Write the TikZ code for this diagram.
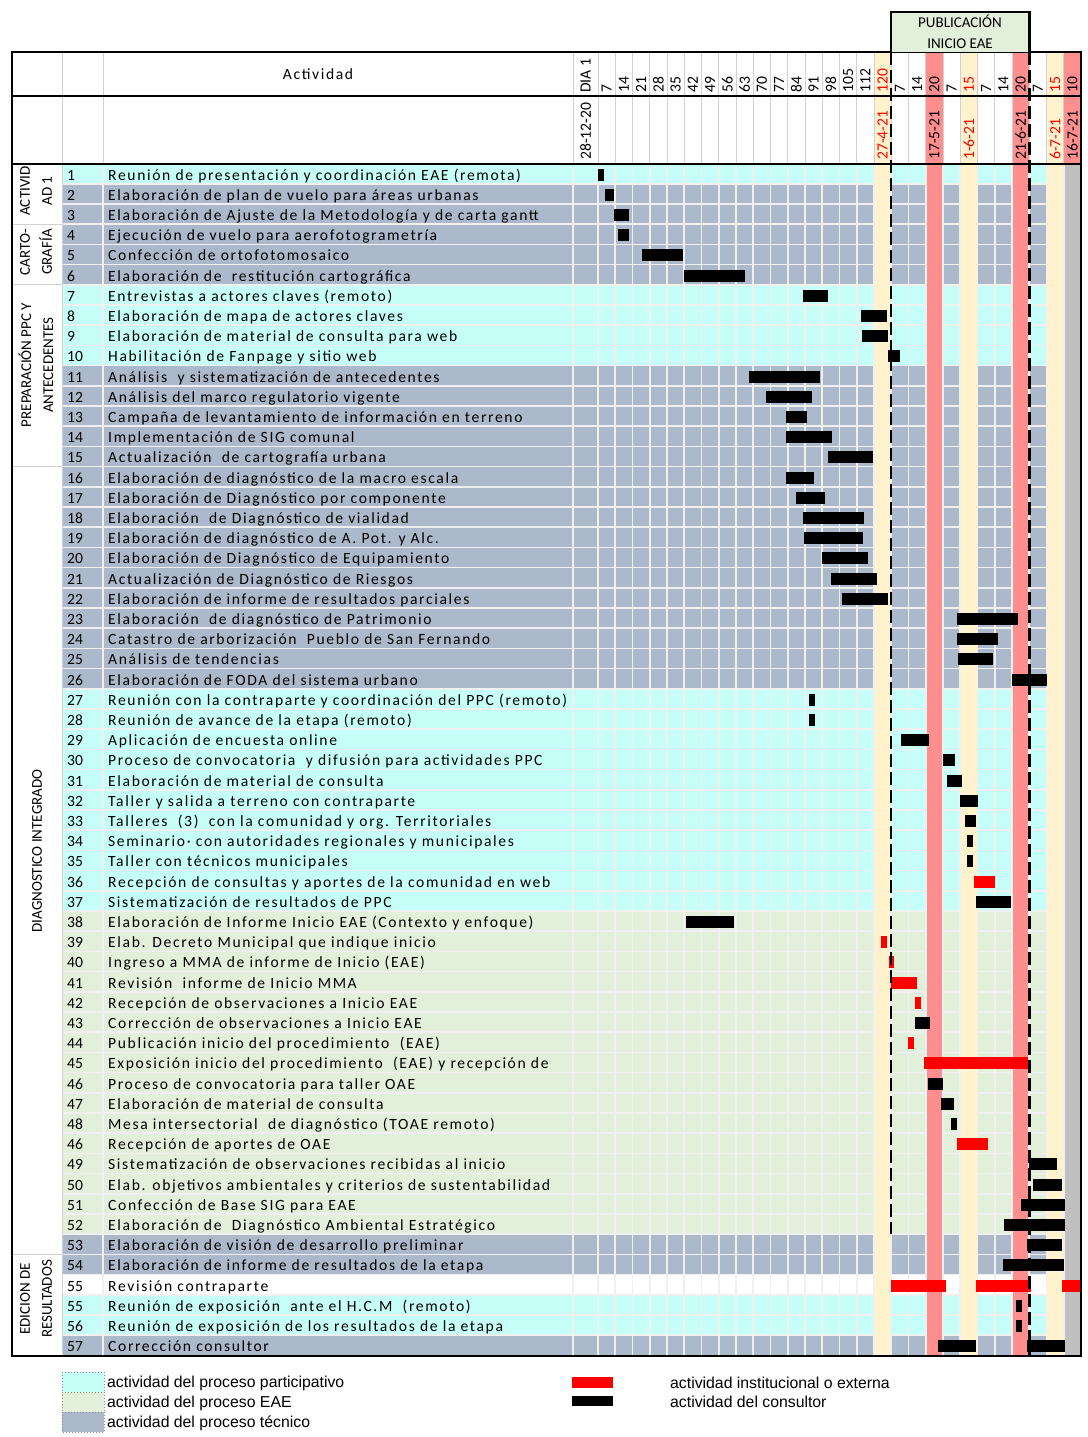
\documentclass[tikz,border=0pt]{standalone}
\usepackage{fontspec}
\setmainfont{Carlito}
\newfontfamily\spacedfont{Carlito}[LetterSpace=10.5]
\newfontfamily\legendfont{Liberation Sans}
\definecolor{participa}{HTML}{C5FFF8}
\definecolor{eae}{HTML}{E2EFDA}
\definecolor{tecnico}{HTML}{ACB9CA}
\definecolor{amarillo}{HTML}{FFF2CC}
\definecolor{rosa}{HTML}{FF8F8F}
\definecolor{gris}{HTML}{C0C0C0}
\definecolor{rojo}{HTML}{FF0000}
\newcommand\cx[1]{(598+17.25*(#1-1))}
\newcommand\ry[1]{(163.5+20.2*(#1))}
\tikzset{%
    gridline/.style = {draw=white!94!black, line width=1.6pt},
    headgrid/.style = {draw=black!18, line width=0.8pt},
    frame/.style = {draw=black, line width=2pt},
    acttext/.style = {anchor=base west, inner sep=0pt,
        font=\spacedfont\fontsize{15.6}{18}\selectfont},
    numtext/.style = {anchor=base west, inner sep=0pt,
        font=\fontsize{15.6}{18}\selectfont},
    colhead/.style = {rotate=90, anchor=west, inner sep=0pt,
        font=\fontsize{15.6}{18}\selectfont},
    grouplabel/.style = {rotate=90, align=center, inner sep=0pt,
        font=\fontsize{15}{22}\selectfont},
    legendbox/.style = {draw=black!45, dotted, line width=1pt},
    legendtext/.style = {anchor=west, inner sep=0pt,
        font=\legendfont\fontsize{15.8}{18}\selectfont},
    phaseline/.style = {draw=black, line width=2.8pt, dash pattern=on 13pt off 5pt},
}

\begin{document}
\begin{tikzpicture}[x=1pt, y=-1pt]
    \fill[white] (0,0) rectangle (1087,1437);
    \useasboundingbox (0,0) rectangle (1087,1437);
    % filas de actividades
    \foreach \r/\nr/\rc/\txt in {
        0/1/participa/{Reunión de presentación y coordinación EAE (remota)},
        1/2/tecnico/{Elaboración de plan de vuelo para áreas urbanas},
        2/3/tecnico/{Elaboración de Ajuste de la Metodología y de carta gantt},
        3/4/tecnico/{Ejecución de vuelo para aerofotogrametría},
        4/5/tecnico/{Confección de ortofotomosaico},
        5/6/tecnico/{Elaboración de\ \ restitución cartográfica},
        6/7/participa/{Entrevistas a actores claves (remoto)},
        7/8/participa/{Elaboración de mapa de actores claves},
        8/9/participa/{Elaboración de material de consulta para web},
        9/10/participa/{Habilitación de Fanpage y sitio web},
        10/11/tecnico/{Análisis\ \ y sistematización de antecedentes},
        11/12/tecnico/{Análisis del marco regulatorio vigente},
        12/13/tecnico/{Campaña de levantamiento de información en terreno},
        13/14/tecnico/{Implementación de SIG comunal},
        14/15/tecnico/{Actualización\ \ de cartografía urbana},
        15/16/tecnico/{Elaboración de diagnóstico de la macro escala},
        16/17/tecnico/{Elaboración de Diagnóstico por componente},
        17/18/tecnico/{Elaboración\ \ de Diagnóstico de vialidad},
        18/19/tecnico/{Elaboración de diagnóstico de A. Pot. y Alc.},
        19/20/tecnico/{Elaboración de Diagnóstico de Equipamiento},
        20/21/tecnico/{Actualización de Diagnóstico de Riesgos},
        21/22/tecnico/{Elaboración de informe de resultados parciales},
        22/23/tecnico/{Elaboración\ \ de diagnóstico de Patrimonio},
        23/24/tecnico/{Catastro de arborización\ \ Pueblo de San Fernando},
        24/25/tecnico/{Análisis de tendencias},
        25/26/tecnico/{Elaboración de FODA del sistema urbano},
        26/27/participa/{Reunión con la contraparte y coordinación del PPC (remoto)},
        27/28/participa/{Reunión de avance de la etapa (remoto)},
        28/29/participa/{Aplicación de encuesta online},
        29/30/participa/{Proceso de convocatoria\ \ y difusión para actividades PPC},
        30/31/participa/{Elaboración de material de consulta},
        31/32/participa/{Taller y salida a terreno con contraparte},
        32/33/participa/{Talleres\ \ (3)\ \ con la comunidad y org. Territoriales},
        33/34/participa/{Seminario· con autoridades regionales y municipales},
        34/35/participa/{Taller con técnicos municipales},
        35/36/participa/{Recepción de consultas y aportes de la comunidad en web},
        36/37/participa/{Sistematización de resultados de PPC},
        37/38/eae/{Elaboración de Informe Inicio EAE (Contexto y enfoque)},
        38/39/eae/{Elab. Decreto Municipal que indique inicio},
        39/40/eae/{Ingreso a MMA de informe de Inicio (EAE)},
        40/41/eae/{Revisión\ \ informe de Inicio MMA},
        41/42/eae/{Recepción de observaciones a Inicio EAE},
        42/43/eae/{Corrección de observaciones a Inicio EAE},
        43/44/eae/{Publicación inicio del procedimiento\ \ (EAE)},
        44/45/eae/{Exposición inicio del procedimiento\ \ (EAE) y recepción de},
        45/46/eae/{Proceso de convocatoria para taller OAE},
        46/47/eae/{Elaboración de material de consulta},
        47/48/eae/{Mesa intersectorial\ \ de diagnóstico (TOAE remoto)},
        48/46/eae/{Recepción de aportes de OAE},
        49/49/eae/{Sistematización de observaciones recibidas al inicio},
        50/50/eae/{Elab. objetivos ambientales y criterios de sustentabilidad},
        51/51/eae/{Confección de Base SIG para EAE},
        52/52/eae/{Elaboración de\ \ Diagnóstico Ambiental Estratégico},
        53/53/tecnico/{Elaboración de visión de desarrollo preliminar},
        54/54/tecnico/{Elaboración de informe de resultados de la etapa},
        55/55/white/{Revisión contraparte},
        56/55/participa/{Reunión de exposición\ \ ante el H.C.M\ \ (remoto)},
        57/56/participa/{Reunión de exposición de los resultados de la etapa},
        58/57/tecnico/{Corrección consultor}} {
        \fill[\rc] (62,{\ry{\r}}) rectangle (1081,{\ry{\r}+20.2});
        \node[numtext] (num\r) at (67,{\ry{\r}+16.5}) {\nr};
        \node[acttext] (act\r) at (108,{\ry{\r}+16.5}) {\txt};
    }
    \foreach \r in {1,...,58}
        \draw[gridline] (62,{\ry{\r}}) -- (1081,{\ry{\r}});
    % columnas destacadas
    \foreach \j/\cl in {17/amarillo, 20/rosa, 22/amarillo, 25/rosa, 27/amarillo}
        \fill[\cl] ({\cx{\j}},52) rectangle ({\cx{\j}+17.25},1356);
    \fill[rosa] ({\cx{28}},52) rectangle (1081,164);
    \fill[gris] ({\cx{28}},164) rectangle (1081,1356);
    % rejilla
    \foreach \j in {1,...,28} {
        \draw[headgrid] ({\cx{\j}},52) -- ({\cx{\j}},164);
        \draw[gridline] ({\cx{\j}},164) -- ({\cx{\j}},1356);
    }
    \draw[headgrid] (573,52) -- (573,164);
    \draw[gridline] (573,164) -- (573,1356);
    \draw[headgrid] (103,52) -- (103,164);
    \draw[gridline] (103,164) -- (103,1356);
    \draw[headgrid] (62,52) -- (62,1356);
    \foreach \r in {3,6,15,54}
        \draw[headgrid] (12,{\ry{\r}}) -- (62,{\ry{\r}});
    % encabezado
    \node[font=\spacedfont\fontsize{15.6}{18}\selectfont] (actividad) at (318,74) {Actividad};
    \node[colhead] (dia) at (585.5,93) {DIA 1};
    \foreach \j/\lab/\tc in {1/7/black, 2/14/black, 3/21/black, 4/28/black, 5/35/black,
        6/42/black, 7/49/black, 8/56/black, 9/63/black, 10/70/black, 11/77/black,
        12/84/black, 13/91/black, 14/98/black, 15/105/black, 16/112/black, 17/120/rojo,
        18/7/black, 19/14/black, 20/20/black, 21/7/black, 22/15/rojo, 23/7/black,
        24/14/black, 25/20/black, 26/7/black, 27/15/rojo, 28/10/black}
        \node[colhead, text=\tc] (col\j) at ({\cx{\j}+8.625},93) {\lab};
    \node[colhead] (fecha0) at (585.5,160) {28-12-20};
    \foreach \j/\lab/\tc in {17/27-4-21/rojo, 20/17-5-21/black, 22/1-6-21/rojo,
        25/21-6-21/black, 27/6-7-21/rojo, 28/16-7-21/black}
        \node[colhead, text=\tc] (fecha\j) at ({\cx{\j}+8.625},160) {\lab};
    % grupos
    \node[grouplabel] (gact) at (36,191) {ACTIVID\\AD 1};
    \node[grouplabel] (gcar) at (36,252) {CARTO-\\GRAFÍA};
    \node[grouplabel] (gprep) at (36,365) {PREPARACIÓN PPC Y\\ANTECEDENTES};
    \node[grouplabel] (gdiag) at (37,851) {DIAGNOSTICO INTEGRADO};
    \node[grouplabel] (gedit) at (36,1299) {EDICION DE\\RESULTADOS};
    % barras
    \foreach \r/\xa/\xb/\bc in {0/598/604/black, 1/605/614/black, 2/614/629/black,
        3/618/629/black, 4/642/683/black, 5/684/745/black, 6/803/828/black,
        7/861/887/black, 8/862/888/black, 9/888/900/black, 10/749/820/black,
        11/766/812/black, 12/786/807/black, 13/786/832/black, 14/828/873/black,
        15/786/814/black, 16/796/825/black, 17/803/864/black, 18/804/863/black,
        19/822/868/black, 20/831/877/black, 21/842/888/black, 22/957/1018/black,
        23/957/998/black, 24/958/993/black, 25/1012/1047/black, 26/809/815/black,
        27/809/815/black, 28/901/929/black, 29/943/955/black, 30/947/962/black,
        31/960/978/black, 32/965/976/black, 33/967/973/black, 34/967/973/black,
        35/974/995/rojo, 36/976/1011/black, 37/686/734/black, 38/881/887/rojo,
        39/889/894/rojo, 40/891/917/rojo, 41/915/921/rojo, 42/915/930/black,
        43/908/914/rojo, 44/924/1028/rojo, 45/928/943/black, 46/941/954/black,
        47/951/957/black, 48/957/988/rojo, 49/1029/1057/black, 50/1033/1062/black,
        51/1021/1065/black, 52/1004/1065/black, 53/1027/1062/black,
        54/1003/1064/black, 55/891/946/rojo, 55/976/1031/rojo, 55/1062/1080/rojo,
        56/1016/1022/black, 57/1016/1022/black, 58/938/976/black, 58/1027/1065/black}
        \fill[\bc] (\xa,{\ry{\r}+5}) rectangle (\xb,{\ry{\r}+17});
    % marcos
    \draw[frame] (12,52) rectangle (1081,1356);
    \draw[frame] (12,96) -- (1081,96);
    \draw[frame] (12,164) -- (1081,164);
    % publicacion inicio EAE
    \fill[eae] (891,12) rectangle (1029.3,52);
    \draw[draw=black, line width=2.8pt] (891,52) -- (891,12) -- (1029.3,12) -- (1029.3,52);
    \node[align=center, font=\fontsize{15}{21}\selectfont] (publica) at (960,32) {PUBLICACIÓN\\INICIO EAE};
    \draw[phaseline] (891,52) -- (891,1234);
    \draw[phaseline] (1029.3,52) -- (1029.3,1356);
    % leyenda
    \foreach \k/\cl/\lab in {0/participa/actividad del proceso participativo,
        1/eae/actividad del proceso EAE, 2/tecnico/actividad del proceso técnico} {
        \fill[\cl] (62,{1372+20*\k}) rectangle (104,{1392+20*\k});
        \draw[legendbox] (62,{1372+20*\k}) rectangle (104,{1392+20*\k});
        \node[legendtext] (ley\k) at (107,{1383+20*\k}) {\lab};
    }
    \fill[rojo] (572,1377) rectangle (613,1388);
    \fill[black] (572,1396) rectangle (613,1406);
    \node[legendtext] (leyrojo) at (670,1383) {actividad institucional o externa};
    \node[legendtext] (leynegro) at (670,1402) {actividad del consultor};
\end{tikzpicture}
\end{document}
